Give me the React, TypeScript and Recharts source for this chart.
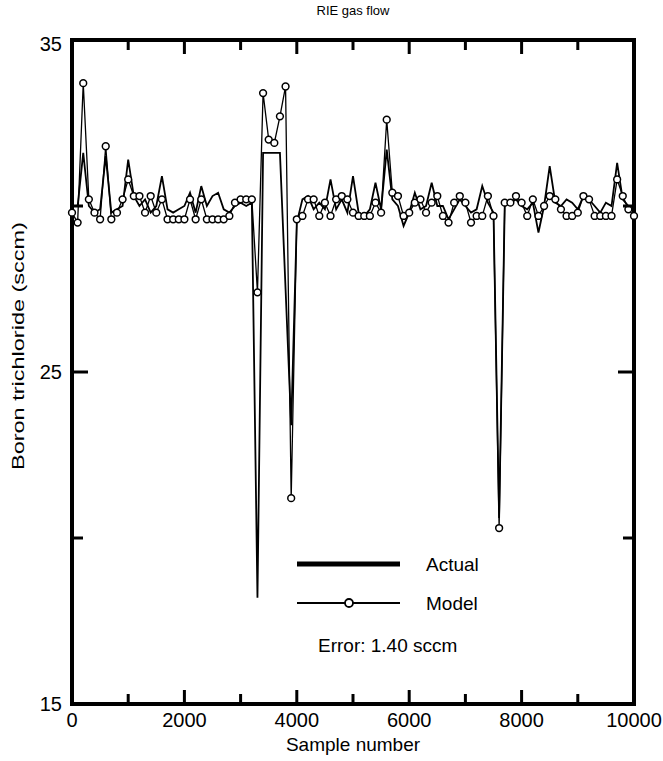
import { LineChart, Line, XAxis, YAxis, Legend, Label } from "recharts";

// sample number (x) for every reading
const sampleNumbers = [
  0, 100, 200, 300, 400, 500, 600, 700, 800, 900,
  1000, 1100, 1200, 1300, 1400, 1500, 1600, 1700, 1800, 1900,
  2000, 2100, 2200, 2300, 2400, 2500, 2600, 2700, 2800, 2900,
  3000, 3100, 3200, 3300, 3400, 3500, 3600, 3700, 3800, 3900,
  4000, 4100, 4200, 4300, 4400, 4500, 4600, 4700, 4800, 4900,
  5000, 5100, 5200, 5300, 5400, 5500, 5600, 5700, 5800, 5900,
  6000, 6100, 6200, 6300, 6400, 6500, 6600, 6700, 6800, 6900,
  7000, 7100, 7200, 7300, 7400, 7500, 7600, 7700, 7800, 7900,
  8000, 8100, 8200, 8300, 8400, 8500, 8600, 8700, 8800, 8900,
  9000, 9100, 9200, 9300, 9400, 9500, 9600, 9700, 9800, 9900,
  10000,
];

// measured BCl3 flow (sccm)
const actualFlow = [
  30.0, 30.0, 31.6, 30.0, 29.8, 29.9, 31.5, 29.8, 29.9, 30.0,
  31.4, 30.3, 30.0, 30.2, 29.8, 30.0, 30.9, 29.9, 29.8, 29.9,
  30.0, 30.4, 29.8, 30.6, 30.0, 30.3, 30.4, 29.9, 29.8, 30.0,
  30.1, 30.0, 30.1, 18.2, 31.6, 31.6, 31.6, 31.6, 27.5, 23.4,
  29.5, 30.2, 30.3, 29.9, 30.1, 29.9, 30.8, 29.9, 30.2, 29.8,
  30.9, 29.8, 29.7, 29.9, 30.7, 29.9, 31.7, 30.2, 30.0, 29.4,
  29.8, 30.4, 29.9, 30.0, 30.7, 30.0, 30.0, 29.6, 29.9, 30.2,
  30.0, 29.8, 29.9, 30.6, 30.1, 29.8, 20.6, 30.0, 30.1, 30.2,
  30.0, 29.9, 30.1, 29.2, 30.0, 31.2, 30.1, 30.0, 30.2, 30.1,
  29.9, 30.3, 30.2, 30.0, 29.8, 30.1, 30.0, 31.3, 30.2, 30.0,
  30.0,
];

// model prediction (sccm)
const modelFlow = [
  29.8, 29.5, 33.7, 30.2, 29.8, 29.6, 31.8, 29.6, 29.8, 30.2,
  30.8, 30.3, 30.3, 29.8, 30.3, 29.8, 30.2, 29.6, 29.6, 29.6,
  29.6, 30.2, 29.6, 30.2, 29.6, 29.6, 29.6, 29.6, 29.7, 30.1,
  30.2, 30.2, 30.2, 27.4, 33.4, 32.0, 31.9, 32.7, 33.6, 21.2,
  29.6, 29.7, 30.2, 30.2, 29.7, 30.1, 29.7, 30.2, 30.3, 30.2,
  29.8, 29.7, 29.7, 29.7, 30.1, 29.8, 32.6, 30.4, 30.3, 29.7,
  29.8, 30.1, 30.2, 29.8, 30.1, 30.3, 29.7, 29.5, 30.1, 30.3,
  30.1, 29.5, 29.7, 29.7, 30.3, 29.7, 20.3, 30.1, 30.1, 30.3,
  30.1, 29.7, 30.2, 29.7, 30.0, 30.3, 30.2, 29.9, 29.7, 29.7,
  29.8, 30.3, 30.2, 29.7, 29.7, 29.7, 29.7, 30.8, 30.3, 29.9,
  29.7,
];

const xTicks = [0, 1000, 2000, 3000, 4000, 5000, 6000, 7000, 8000, 9000, 10000];
const xLabelled = [0, 2000, 4000, 6000, 8000, 10000];
const yTicks = [15, 20, 25, 30, 35];
const yLabelled = [15, 25, 35];

const data = sampleNumbers.map((s, i) => ({
  sample: s,
  actual: actualFlow[i],
  model: modelFlow[i],
}));

const FONT = "'Liberation Sans', Arial, Helvetica, sans-serif";

function BottomTick({ x, y, payload }: any) {
  const major = xLabelled.includes(payload.value);
  return (
    <g>
      <line x1={x} y1={y} x2={x} y2={y - (major ? 14 : 10)} stroke="#000" strokeWidth={3} />
      {major && (
        <text x={x} y={y + 23} textAnchor="middle" fontSize={20} fill="#000">
          {payload.value}
        </text>
      )}
    </g>
  );
}

function TopTick({ x, y, payload }: any) {
  const major = xLabelled.includes(payload.value);
  return <line x1={x} y1={y} x2={x} y2={y + (major ? 14 : 10)} stroke="#000" strokeWidth={3} />;
}

function LeftTick({ x, y, payload }: any) {
  const major = yLabelled.includes(payload.value);
  // top label sits a little below its tick in the original
  const shift = payload.value === 35 ? 4 : 0;
  return (
    <g>
      <line x1={x} y1={y} x2={x + (major ? 16 : 11)} y2={y} stroke="#000" strokeWidth={3} />
      {major && (
        <text x={x - 10} y={y + shift} dy="0.35em" textAnchor="end" fontSize={20} fill="#000">
          {payload.value}
        </text>
      )}
    </g>
  );
}

function RightTick({ x, y, payload }: any) {
  const major = yLabelled.includes(payload.value);
  return <line x1={x} y1={y} x2={x - (major ? 16 : 11)} y2={y} stroke="#000" strokeWidth={3} />;
}

function YTitle({ viewBox }: any) {
  const cx = 18;
  const cy = viewBox.y + viewBox.height / 2 - 26;
  return (
    <text
      x={cx}
      y={cy}
      dy="0.35em"
      transform={`rotate(-90 ${cx} ${cy})`}
      textAnchor="middle"
      fontSize={17}
      textLength={248}
      lengthAdjust="spacingAndGlyphs"
      fill="#000"
    >
      Boron trichloride (sccm)
    </text>
  );
}

function LegendBox() {
  return (
    <svg width={200} height={115} style={{ fontFamily: FONT, overflow: "visible" }}>
      <line x1={7} y1={16} x2={110} y2={16} stroke="#000" strokeWidth={5} />
      <text x={136} y={23} fontSize={19} fill="#000">Actual</text>
      <line x1={7} y1={55} x2={110} y2={55} stroke="#000" strokeWidth={2} />
      <circle cx={59} cy={55} r={4} fill="#fff" stroke="#000" strokeWidth={1.8} />
      <text x={136} y={62} fontSize={19} fill="#000">Model</text>
      <text x={28} y={104} fontSize={19} fill="#000">Error: 1.40 sccm</text>
    </svg>
  );
}

const axisLine = { stroke: "#000", strokeWidth: 4, strokeLinecap: "square" as const };

export default function App() {
  return (
    <div style={{ width: 663, height: 761, background: "#fff" }}>
      <style>{"body{margin:0;background:#fff}"}</style>
      <LineChart
        width={663}
        height={761}
        data={data}
        margin={{ top: 39, right: 28, bottom: 56, left: 71 }}
        style={{ fontFamily: FONT }}
      >
        <XAxis
          xAxisId="b"
          dataKey="sample"
          type="number"
          domain={[0, 10000]}
          ticks={xTicks}
          interval={0}
          height={1}
          tickSize={0}
          tickMargin={0}
          tickLine={false}
          axisLine={axisLine}
          tick={<BottomTick />}
        >
          <Label value="Sample number" position="bottom" offset={33} fontSize={19} fill="#000" />
        </XAxis>
        <XAxis
          xAxisId="t"
          orientation="top"
          dataKey="sample"
          type="number"
          domain={[0, 10000]}
          ticks={xTicks}
          interval={0}
          height={1}
          tickSize={0}
          tickMargin={0}
          tickLine={false}
          axisLine={axisLine}
          tick={<TopTick />}
        >
          <Label value="RIE gas flow" position="top" offset={24} fontSize={13} fill="#000" />
        </XAxis>
        <YAxis
          yAxisId="l"
          type="number"
          domain={[15, 35]}
          ticks={yTicks}
          interval={0}
          width={1}
          tickSize={0}
          tickMargin={0}
          tickLine={false}
          axisLine={axisLine}
          tick={<LeftTick />}
          allowDataOverflow
        >
          <Label content={<YTitle />} />
        </YAxis>
        <YAxis
          yAxisId="r"
          orientation="right"
          type="number"
          domain={[15, 35]}
          ticks={yTicks}
          interval={0}
          width={1}
          tickSize={0}
          tickMargin={0}
          tickLine={false}
          axisLine={axisLine}
          tick={<RightTick />}
          allowDataOverflow
        />
        <Legend
          layout="horizontal"
          verticalAlign="middle"
          align="center"
          content={<LegendBox />}
          wrapperStyle={{ position: "absolute", left: 290, top: 548, width: 200, height: 115 }}
        />
        <Line
          xAxisId="b"
          yAxisId="l"
          type="linear"
          dataKey="actual"
          name="Actual"
          stroke="#000"
          strokeWidth={1.8}
          dot={false}
          isAnimationActive={false}
        />
        <Line
          xAxisId="b"
          yAxisId="l"
          type="linear"
          dataKey="model"
          name="Model"
          stroke="#000"
          strokeWidth={1.3}
          dot={{ r: 3.4, fill: "#fff", stroke: "#000", strokeWidth: 1.5 }}
          isAnimationActive={false}
        />
      </LineChart>
    </div>
  );
}
